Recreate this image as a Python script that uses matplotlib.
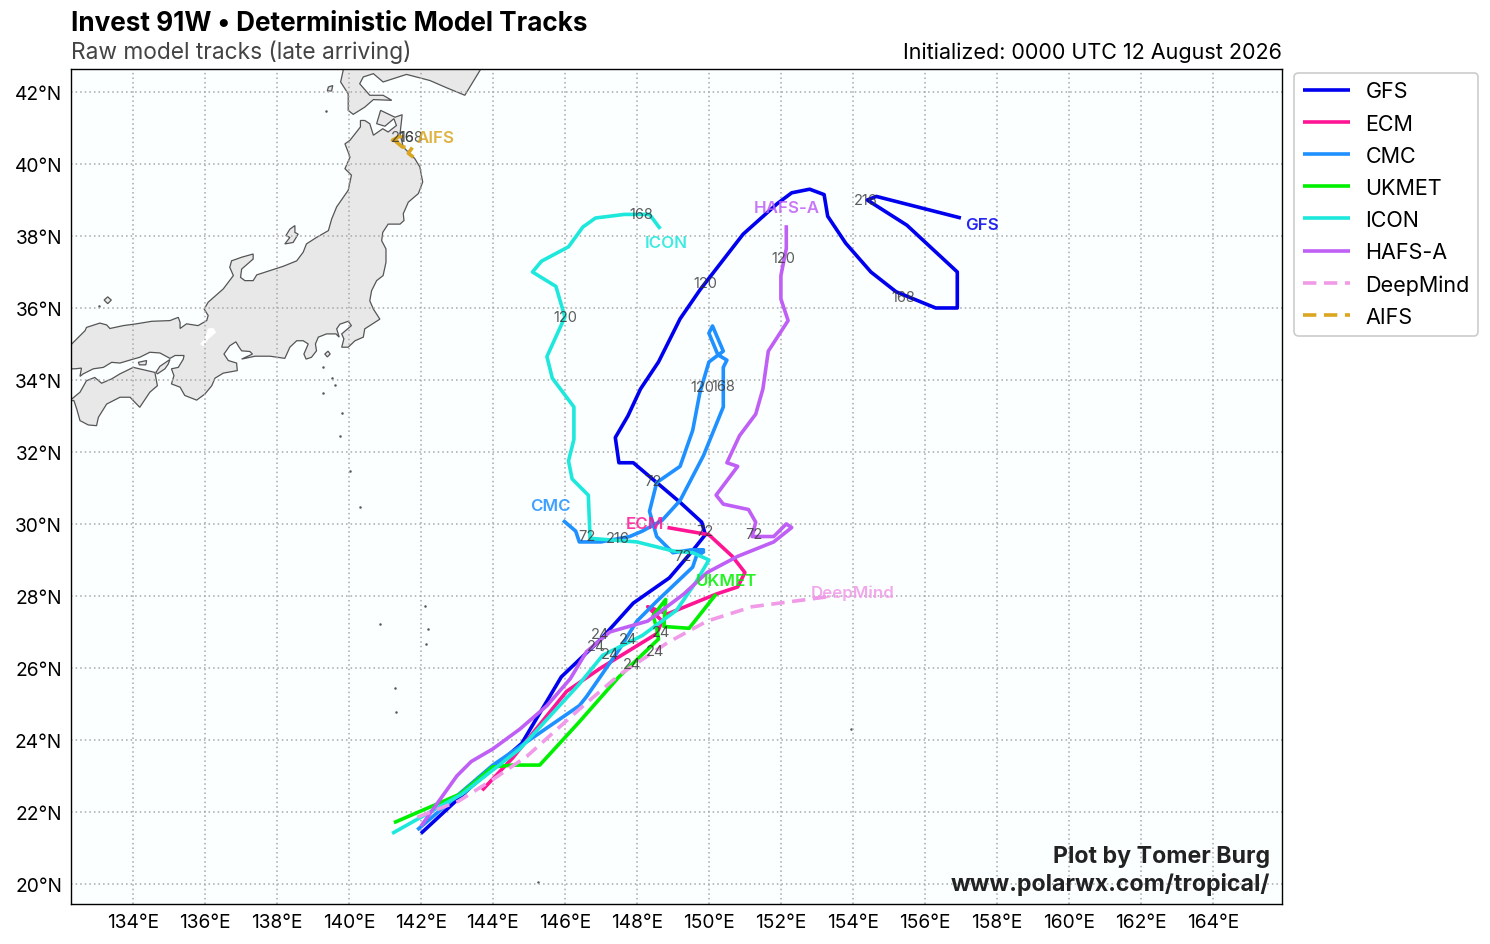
# Invest 91W deterministic model tracks

import matplotlib
matplotlib.use('Agg')
import matplotlib.pyplot as plt
from matplotlib.patches import Polygon

plt.rcParams['font.family'] = ['Inter', 'DejaVu Sans']

# ---- tracks (lon, lat) ----
gfs_lon = [142.0,143.4,144.8,145.9,147.0,147.9,148.9,149.5,149.9,149.8,149.2,147.9,147.5,147.4,147.75,148.1,148.6,149.2,149.75,150.95,151.9,152.3,152.8,153.2,153.3,153.8,154.5,155.2,156.3,156.9,156.9,155.5,154.4,154.65,157.0]
gfs_lat = [21.4,22.7,23.9,25.75,26.8,27.8,28.5,29.2,29.7,30.05,30.6,31.7,31.7,32.4,33.0,33.75,34.5,35.7,36.5,38.05,38.9,39.2,39.3,39.15,38.55,37.8,37.0,36.45,36.0,36.0,37.0,38.3,39.0,39.1,38.5]

ecm_lon = [143.7,144.55,146.05,147.0,148.55,148.7,148.3,148.85,150.2,150.8,151.0,150.65,150.0,148.85]
ecm_lat = [22.6,23.5,25.35,26.0,26.95,27.3,27.7,27.5,28.05,28.25,28.65,29.1,29.7,29.9]

cmc_lon = [141.9,144.0,146.4,146.6,147.5,148.0,148.55,149.55,149.65,149.85,149.5,149.85,149.5,149.0,148.55,148.35,148.55,149.2,149.55,149.75,150.0,150.4,150.1,150.0,150.25,150.5,150.4,150.4,149.85,149.2,148.7,148.15,147.8,147.0,146.4,146.3,145.95]
cmc_lat = [21.5,23.3,24.95,25.2,26.5,27.3,27.85,28.8,29.1,29.22,29.22,29.28,29.28,29.2,29.65,30.35,31.15,31.6,32.6,33.65,34.5,34.8,35.5,35.3,34.7,34.55,34.35,33.25,31.9,30.65,30.1,29.8,29.65,29.5,29.5,29.8,30.1]

ukmet_lon = [141.25,143.1,144.0,144.55,145.3,146.4,147.5,148.6,148.55,148.45,148.8,148.75,149.45,150.2]
ukmet_lat = [21.7,22.5,23.25,23.3,23.3,24.5,25.75,26.8,27.1,27.45,27.9,27.15,27.1,28.05]

icon_lon = [141.2,143.15,144.75,146.4,147.05,148.15,149.1,149.65,150.0,149.55,149.0,148.0,146.7,146.65,146.2,146.1,146.25,146.25,145.65,145.5,146.0,145.75,145.1,145.35,146.1,146.5,146.85,147.65,148.35,148.65]
icon_lat = [21.4,22.5,23.75,25.55,26.35,26.9,27.6,28.4,29.0,29.2,29.25,29.5,29.6,30.8,31.25,31.75,32.35,33.25,34.05,34.65,35.75,36.6,37.0,37.3,37.7,38.25,38.5,38.6,38.6,38.2]

hafs_lon = [142.0,142.5,143.0,143.4,144.0,144.75,145.5,146.15,146.6,147.25,148.3,149.3,149.95,150.8,151.8,152.3,152.15,151.8,151.2,151.3,151.1,150.4,150.2,150.8,150.5,150.85,151.3,151.5,151.65,152.2,152.0,152.0,152.15,152.15]
hafs_lat = [21.6,22.3,23.0,23.4,23.75,24.3,24.95,25.7,26.45,27.0,27.3,28.05,28.65,29.1,29.5,29.9,30.0,29.65,29.65,30.05,30.4,30.55,30.8,31.6,31.7,32.45,33.05,33.75,34.8,35.65,36.25,36.9,37.65,38.3]

deepmind_lon = [141.9,143.05,144.0,144.95,146.4,147.5,148.85,149.95,151.2,153.1,153.5]
deepmind_lat = [21.85,22.3,22.9,23.55,24.85,25.8,26.7,27.3,27.7,27.95,28.0]

aifs_lon = [141.79,141.65,141.77,141.49,141.32,141.46,141.21,141.46,141.46]
aifs_lat = [40.19,40.30,40.47,40.47,40.61,40.80,40.66,40.64,40.80]

# model name, colour, track, linestyle
models = ['GFS', 'ECM', 'CMC', 'UKMET', 'ICON', 'HAFS-A', 'DeepMind', 'AIFS']
colors = ['#0000ee', '#ff1493', '#1e90ff', '#00f000', '#1ee8dc', '#bf5ff5', '#f09ae8', '#daa520']
tracks = [(gfs_lon, gfs_lat), (ecm_lon, ecm_lat), (cmc_lon, cmc_lat), (ukmet_lon, ukmet_lat),
          (icon_lon, icon_lat), (hafs_lon, hafs_lat), (deepmind_lon, deepmind_lat), (aifs_lon, aifs_lat)]

# model name labels at the end of each track
name_lon = [157.58, 148.22, 145.61, 150.5, 148.81, 152.17, 154.0, 142.42]
name_lat = [38.33, 30.0, 30.5, 28.44, 37.81, 38.78, 28.11, 40.75]

# forecast hour labels
hour_text = ['24','72','120','168','216', '24','72', '24','72','120','168','216', '24',
             '24','72','120','168', '24','72','120', '24', '168','216']
hour_lon = [146.97,148.44,149.89,155.39,154.36, 148.67,149.89, 147.75,149.28,149.81,150.39,147.47, 148.5,
            147.25,146.61,146.0,148.11, 146.86,151.25,152.08, 147.86, 141.72,141.5]
hour_lat = [26.94,31.19,36.69,36.31,39.0, 27.0,29.81, 26.81,29.11,33.81,33.83,29.61, 26.47,
            26.39,29.67,35.75,38.61, 26.61,29.72,37.39, 26.11, 40.75,40.75]

# ---- coastlines (lon, lat) ----
hokkaido = [(139.84,42.88),(139.84,42.60),(139.77,42.28),(139.98,41.95),(139.98,41.49),(140.12,41.38),(140.44,41.58),
            (140.68,41.79),(141.19,41.77),(140.95,41.91),(140.58,41.91),(140.30,42.23),(140.40,42.42),(140.68,42.51),
            (140.95,42.28),(141.60,42.49),(142.25,42.32),(142.71,42.12),(143.22,41.91),(143.64,42.60),(143.73,42.88)]

honshu = [(139.52,38.47),(139.66,38.81),(139.98,39.27),(140.07,39.69),(139.89,39.87),(140.03,40.19),(139.98,40.33),
          (139.89,40.56),(140.03,40.66),(140.21,40.89),(140.32,41.03),(140.32,41.21),(140.44,41.21),(140.58,41.12),
          (140.68,40.80),(140.94,40.98),(141.09,40.89),(141.32,41.07),(141.25,41.26),(141.00,41.05),(140.77,41.12),
          (140.88,41.49),(141.28,41.30),(141.48,41.37),(141.42,40.84),(141.51,40.47),(141.83,40.15),(141.97,39.92),
          (142.05,39.50),(141.93,39.18),(141.65,38.94),(141.51,38.62),(141.53,38.43),(141.42,38.33),(141.09,38.33),
          (140.94,38.10),(140.91,37.87),(141.03,37.64),(141.03,37.27),(140.95,36.90),(140.77,36.76),(140.63,36.48),
          (140.58,36.20),(140.68,35.97),(140.86,35.69),(140.44,35.42),(140.40,35.19),(140.17,35.09),(139.98,34.91),
          (139.80,34.91),(139.86,35.14),(139.80,35.28),(140.07,35.51),(139.98,35.63),(139.75,35.55),(139.66,35.42),
          (139.73,35.19),(139.64,35.28),(139.38,35.28),(139.15,35.19),(139.07,35.00),(139.10,34.81),(138.96,34.63),
          (138.81,34.58),(138.75,34.72),(138.87,35.00),(138.73,35.09),(138.55,35.09),(138.36,34.91),(138.22,34.60),
          (137.81,34.66),(137.39,34.66),(137.02,34.58),(137.32,34.72),(137.25,34.79),(137.02,34.81),(136.95,34.91),
          (136.86,35.06),(136.69,34.95),(136.53,34.72),(136.65,34.54),(136.88,34.47),(136.90,34.26),(136.51,34.19),
          (136.28,34.05),(136.19,33.84),(136.00,33.61),(135.77,33.44),(135.44,33.57),(135.31,33.80),(135.07,33.89),
          (135.14,34.12),(135.07,34.31),(135.26,34.35),(135.40,34.58),(135.42,34.68),(135.17,34.68),(135.03,34.60),
          (134.75,34.75),(134.47,34.77),(134.19,34.63),(134.01,34.58),(133.64,34.47),(133.41,34.49),(133.18,34.35),
          (132.90,34.31),(132.62,34.17),(132.53,34.10),(132.57,34.33),(132.39,34.31),(132.06,34.31),(132.06,35.00),
          (132.30,35.00),(132.44,35.14),(132.67,35.37),(132.71,35.46),(133.08,35.58),(133.27,35.53),(133.36,35.43),
          (133.73,35.51),(134.10,35.56),(134.52,35.63),(135.03,35.65),(135.26,35.74),(135.31,35.60),(135.31,35.43),
          (135.49,35.56),(135.81,35.51),(136.05,35.65),(136.09,35.79),(135.98,35.97),(136.09,36.16),(136.51,36.53),
          (136.79,36.90),(136.69,37.13),(136.74,37.31),(137.02,37.41),(137.34,37.50),(137.34,37.36),(137.02,37.08),
          (136.99,36.85),(137.11,36.76),(137.34,36.76),(137.44,36.92),(137.81,37.04),(138.18,37.16),(138.55,37.31),
          (138.73,37.55),(138.82,37.78),(139.10,37.96),(139.43,38.15)]

shikoku = [(132.30,33.47),(132.53,33.66),(132.71,33.98),(132.94,34.07),(133.13,33.91),(133.41,34.03),(133.64,34.17),
           (134.01,34.35),(134.61,34.21),(134.68,33.84),(134.47,33.66),(134.19,33.24),(133.92,33.52),(133.64,33.52),
           (133.27,33.33),(133.04,32.96),(132.99,32.73),(132.76,32.75),(132.53,32.87),(132.44,33.19),(132.36,33.43),
           (132.06,33.40),(132.06,33.47)]

sado = [(138.50,38.29),(138.36,38.19),(138.25,38.01),(138.36,37.96),(138.22,37.78),(138.45,37.82),(138.59,38.05),(138.50,38.10)]
awaji = [(134.64,34.21),(134.75,34.38),(135.03,34.57),(134.98,34.44),(134.89,34.31),(134.68,34.17)]
shodoshima = [(134.15,34.49),(134.38,34.54),(134.36,34.42),(134.18,34.42)]
oshima = [(139.43,42.14),(139.55,42.18),(139.52,42.03),(139.40,42.03)]
oki = [(133.2,36.22),(133.3,36.31),(133.4,36.22),(133.3,36.12)]
izu = [(139.33,34.72),(139.42,34.80),(139.48,34.72),(139.40,34.64)]
lands = [hokkaido, honshu, shikoku, sado, awaji, shodoshima, oshima, oki, izu]

lake_biwa = [(136.09,35.42),(136.23,35.44),(136.30,35.32),(136.09,35.14),(135.95,34.95),(135.88,35.00),(136.0,35.14),(136.06,35.32)]

islet_lon = [133.06,139.28,139.53,139.60,139.29,139.81,139.75,140.03,140.31,140.86,142.11,142.19,142.14,141.28,141.31,153.94,145.25,139.36]
islet_lat = [36.05,34.35,34.06,33.86,33.64,33.08,32.44,31.47,30.47,27.22,27.72,27.08,26.67,25.44,24.78,24.31,20.06,41.47]

lon_ticks = list(range(134, 166, 2))
lat_ticks = list(range(20, 44, 2))

W, H = 1490, 945
fig = plt.figure(figsize=(W / 100, H / 100), dpi=100)
ax = fig.add_axes([71 / W, 1 - 905 / H, 1211 / W, 835 / H])
ax.set_facecolor('#fbffff')
ax.set_xlim(132.28, 165.92)
ax.set_ylim(19.44, 42.64)

# land
for land in lands:
    ax.add_patch(Polygon(land, closed=True, facecolor='#e8e8e8', edgecolor='#555555', linewidth=0.9, zorder=1))
ax.add_patch(Polygon(lake_biwa, closed=True, facecolor='white', edgecolor='white', linewidth=0.5, zorder=1.2))
ax.plot(islet_lon, islet_lat, 'o', color='#555555', ms=1.8, mew=0, zorder=1.2)

ax.set_xticks(lon_ticks)
ax.set_xticklabels([f'{v}°E' for v in lon_ticks])
ax.set_yticks(lat_ticks)
ax.set_yticklabels([f'{v}°N' for v in lat_ticks])
ax.tick_params(length=0, labelsize=13.8, pad=6.5)
ax.grid(True, color='#a8a8a8', linewidth=1.1, linestyle=(0, (1, 2)), zorder=1.5)
ax.set_axisbelow(False)
for spine in ax.spines.values():
    spine.set_linewidth(1.0)
    spine.set_color('black')
    spine.set_zorder(10)

# tracks
for name, color, (lon, lat) in zip(models, colors, tracks):
    if name in ('DeepMind', 'AIFS'):
        ax.plot(lon, lat, color=color, linewidth=2.6, dashes=(3.7, 2.1), label=name, zorder=3, dash_capstyle='butt')
    else:
        ax.plot(lon, lat, color=color, linewidth=2.6, label=name, zorder=3, solid_capstyle='butt', solid_joinstyle='round')

for text, lon, lat in zip(hour_text, hour_lon, hour_lat):
    ax.text(lon, lat, text, fontsize=10.5, color='#333333', alpha=0.8, ha='center', va='center', zorder=4)

for name, color, lon, lat in zip(models, colors, name_lon, name_lat):
    ax.text(lon, lat, name, fontsize=12.2, fontweight='semibold', color=color, alpha=0.85, ha='center', va='center', zorder=4)

# titles
fig.text(71 / W, 1 - 31 / H, 'Invest 91W • Deterministic Model Tracks', fontsize=18.8, fontweight='bold', color='black', ha='left', va='baseline')
fig.text(71 / W, 1 - 59 / H, 'Raw model tracks (late arriving)', fontsize=16.4, color='#444444', ha='left', va='baseline')
fig.text(1282 / W, 1 - 59 / H, 'Initialized: 0000 UTC 12 August 2026', fontsize=15.5, color='black', ha='right', va='baseline')

ax.text(0.990, 0.0575, 'Plot by Tomer Burg', transform=ax.transAxes, fontsize=16.7, fontweight='bold', color='#222222', ha='right', va='center', zorder=5)
ax.text(0.990, 0.0245, 'www.polarwx.com/tropical/', transform=ax.transAxes, fontsize=16.7, fontweight='bold', color='#222222', ha='right', va='center', zorder=5)

leg = ax.legend(loc='upper left', bbox_to_anchor=(1.0101, 0.9955), borderaxespad=0, fontsize=15.5, frameon=True,
                edgecolor='#cccccc', framealpha=1, labelspacing=0.565, handlelength=2.2, handletextpad=0.7)
leg.get_frame().set_linewidth(1.2)

plt.savefig('out.png', dpi=100)
